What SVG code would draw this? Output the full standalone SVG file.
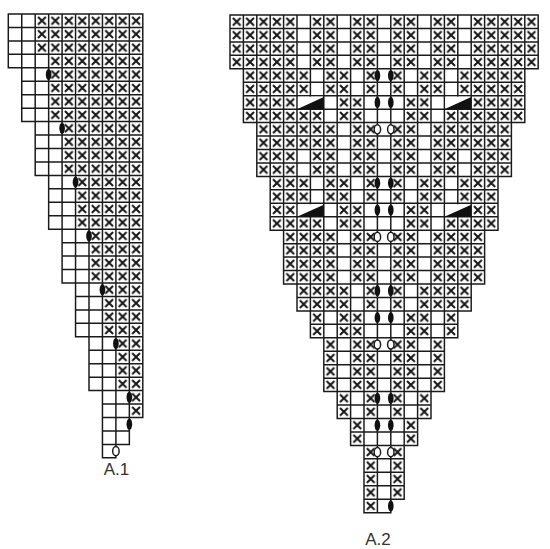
<svg xmlns="http://www.w3.org/2000/svg" width="550" height="549" viewBox="0 0 550 549">
<style>
.xr{fill:url(#xp)}
.gl{fill:none;stroke:#1a1a1a;stroke-width:.11;stroke-linecap:square}
.ov{fill:#111}
.oo{fill:#fff;stroke:#1a1a1a;stroke-width:.11}
.tri{fill:#111}
.cov{fill:#fff}
.lbl{font-family:"Liberation Sans",Arial,sans-serif;font-size:17px;fill:#333;text-anchor:middle}
</style>
<defs>
<pattern id="xp" patternUnits="userSpaceOnUse" width="1" height="1">
<path d="M.21 .21L.79 .79M.79 .21L.21 .79" stroke="#151515" stroke-width=".15" fill="none"/>
</pattern>
</defs>
<rect width="550" height="549" fill="#fff"/>
<g id="chartA1" transform="translate(8.3,14) scale(13.45)">
<g id="a1-knit">
<rect class="xr" x="2" y="0" width="8" height="3"/>
<rect class="xr" x="3" y="3" width="7" height="5"/>
<rect class="xr" x="4" y="8" width="6" height="4"/>
<rect class="xr" x="5" y="12" width="5" height="4"/>
<rect class="xr" x="6" y="16" width="4" height="4"/>
<rect class="xr" x="7" y="20" width="3" height="4"/>
<rect class="xr" x="8" y="24" width="2" height="4"/>
<rect class="xr" x="9" y="28" width="1" height="2"/>
</g>
<path id="a1-grid" class="gl" d="M0 0V4M1 0V8M2 0V12M3 0V16M4 0V20M5 0V24M6 0V28M7 0V33M8 0V33M9 0V32M10 0V30M0 0H10M0 1H10M0 2H10M0 3H10M0 4H10M1 5H10M1 6H10M1 7H10M1 8H10M2 9H10M2 10H10M2 11H10M2 12H10M3 13H10M3 14H10M3 15H10M3 16H10M4 17H10M4 18H10M4 19H10M4 20H10M5 21H10M5 22H10M5 23H10M5 24H10M6 25H10M6 26H10M6 27H10M6 28H10M7 29H10M7 30H10M7 31H9M7 32H9M7 33H8"/>
<g id="a1-symbols">
<ellipse class="ov" cx="3" cy="4.5" rx=".21" ry=".42"/>
<ellipse class="ov" cx="4" cy="8.5" rx=".21" ry=".42"/>
<ellipse class="ov" cx="5" cy="12.5" rx=".21" ry=".42"/>
<ellipse class="ov" cx="6" cy="16.5" rx=".21" ry=".42"/>
<ellipse class="ov" cx="7" cy="20.5" rx=".21" ry=".42"/>
<ellipse class="ov" cx="8" cy="24.5" rx=".21" ry=".42"/>
<ellipse class="ov" cx="9" cy="28.5" rx=".21" ry=".42"/>
<ellipse class="ov" cx="9" cy="30.5" rx=".21" ry=".42"/>
<ellipse class="oo" cx="8" cy="32.5" rx=".24" ry=".34"/>
</g>
</g>
<text id="labelA1" class="lbl" x="116.5" y="475">A.1</text>
<g id="chartA2" transform="translate(230,15) scale(13.4,13.45)">
<g id="a2-knit">
<rect class="xr" x="0" y="0" width="5" height="4"/><rect class="xr" x="6" y="0" width="2" height="4"/><rect class="xr" x="9" y="0" width="2" height="4"/><rect class="xr" x="12" y="0" width="2" height="4"/><rect class="xr" x="15" y="0" width="2" height="4"/><rect class="xr" x="18" y="0" width="5" height="4"/>
<rect class="xr" x="1" y="4" width="5" height="2"/><rect class="xr" x="7" y="4" width="2" height="2"/><rect class="xr" x="10" y="4" width="1" height="2"/><rect class="xr" x="12" y="4" width="1" height="2"/><rect class="xr" x="14" y="4" width="2" height="2"/><rect class="xr" x="17" y="4" width="5" height="2"/>
<rect class="xr" x="1" y="6" width="4" height="2"/><rect class="xr" x="5" y="7" width="2" height="1"/><rect class="xr" x="8" y="6" width="2" height="2"/><rect class="xr" x="13" y="6" width="2" height="2"/><rect class="xr" x="16" y="7" width="2" height="1"/><rect class="xr" x="18" y="6" width="4" height="2"/>
<rect class="xr" x="2" y="8" width="3" height="4"/><rect class="xr" x="5" y="8" width="1" height="2"/><rect class="xr" x="6" y="8" width="2" height="4"/><rect class="xr" x="9" y="8" width="2" height="4"/><rect class="xr" x="12" y="8" width="2" height="4"/><rect class="xr" x="15" y="8" width="2" height="4"/><rect class="xr" x="17" y="8" width="1" height="2"/><rect class="xr" x="18" y="8" width="3" height="4"/>
<rect class="xr" x="3" y="12" width="3" height="2"/><rect class="xr" x="7" y="12" width="2" height="2"/><rect class="xr" x="10" y="12" width="1" height="2"/><rect class="xr" x="12" y="12" width="1" height="2"/><rect class="xr" x="14" y="12" width="2" height="2"/><rect class="xr" x="17" y="12" width="3" height="2"/>
<rect class="xr" x="3" y="14" width="2" height="2"/><rect class="xr" x="5" y="15" width="2" height="1"/><rect class="xr" x="8" y="14" width="2" height="2"/><rect class="xr" x="13" y="14" width="2" height="2"/><rect class="xr" x="16" y="15" width="2" height="1"/><rect class="xr" x="18" y="14" width="2" height="2"/>
<rect class="xr" x="4" y="16" width="4" height="4"/><rect class="xr" x="9" y="16" width="2" height="4"/><rect class="xr" x="12" y="16" width="2" height="4"/><rect class="xr" x="15" y="16" width="4" height="4"/>
<rect class="xr" x="5" y="20" width="4" height="2"/><rect class="xr" x="10" y="20" width="1" height="2"/><rect class="xr" x="12" y="20" width="1" height="2"/><rect class="xr" x="14" y="20" width="4" height="2"/>
<rect class="xr" x="6" y="22" width="1" height="2"/><rect class="xr" x="8" y="22" width="2" height="2"/><rect class="xr" x="13" y="22" width="2" height="2"/><rect class="xr" x="16" y="22" width="1" height="2"/>
<rect class="xr" x="7" y="24" width="1" height="4"/><rect class="xr" x="9" y="24" width="2" height="4"/><rect class="xr" x="12" y="24" width="2" height="4"/><rect class="xr" x="15" y="24" width="1" height="4"/>
<rect class="xr" x="8" y="28" width="1" height="2"/><rect class="xr" x="10" y="28" width="1" height="2"/><rect class="xr" x="12" y="28" width="1" height="2"/><rect class="xr" x="14" y="28" width="1" height="2"/>
<rect class="xr" x="9" y="30" width="1" height="2"/><rect class="xr" x="13" y="30" width="1" height="2"/>
<rect class="xr" x="10" y="32" width="1" height="5"/><rect class="xr" x="12" y="32" width="1" height="4"/>
</g>
<path id="a2-grid" class="gl" d="M0 0V4M1 0V8M2 0V12M3 0V16M4 0V20M5 0V22M6 0V24M7 0V28M8 0V30M9 0V32M10 0V37M11 0V37M12 0V37M13 0V36M14 0V32M15 0V30M16 0V28M17 0V24M18 0V22M19 0V20M20 0V16M21 0V12M22 0V8M23 0V4M0 0H23M0 1H23M0 2H23M0 3H23M0 4H23M1 5H22M1 6H22M1 7H22M1 8H22M2 9H21M2 10H21M2 11H21M2 12H21M3 13H20M3 14H20M3 15H20M3 16H20M4 17H19M4 18H19M4 19H19M4 20H19M5 21H18M5 22H18M6 23H17M6 24H17M7 25H16M7 26H16M7 27H16M7 28H16M8 29H15M8 30H15M9 31H14M9 32H14M10 33H13M10 34H13M10 35H13M10 36H13M10 37H12"/>
<g id="a2-decreases">
<rect class="cov" x="5.07" y="6.07" width="1.86" height=".86"/><polygon class="tri" points="5,7 7,6.1 7,7"/>
<rect class="cov" x="16.07" y="6.07" width="1.86" height=".86"/><polygon class="tri" points="16,7 18,6.1 18,7"/>
<rect class="cov" x="5.07" y="14.07" width="1.86" height=".86"/><polygon class="tri" points="5,15 7,14.1 7,15"/>
<rect class="cov" x="16.07" y="14.07" width="1.86" height=".86"/><polygon class="tri" points="16,15 18,14.1 18,15"/>
</g>
<g id="a2-symbols">
<ellipse class="ov" cx="11" cy="4.5" rx=".21" ry=".42"/><ellipse class="ov" cx="12" cy="4.5" rx=".21" ry=".42"/>
<ellipse class="ov" cx="11" cy="6.5" rx=".21" ry=".42"/><ellipse class="ov" cx="12" cy="6.5" rx=".21" ry=".42"/>
<ellipse class="oo" cx="11" cy="8.5" rx=".24" ry=".34"/><ellipse class="oo" cx="12" cy="8.5" rx=".24" ry=".34"/>
<ellipse class="ov" cx="11" cy="12.5" rx=".21" ry=".42"/><ellipse class="ov" cx="12" cy="12.5" rx=".21" ry=".42"/>
<ellipse class="ov" cx="11" cy="14.5" rx=".21" ry=".42"/><ellipse class="ov" cx="12" cy="14.5" rx=".21" ry=".42"/>
<ellipse class="oo" cx="11" cy="16.5" rx=".24" ry=".34"/><ellipse class="oo" cx="12" cy="16.5" rx=".24" ry=".34"/>
<ellipse class="ov" cx="11" cy="20.5" rx=".21" ry=".42"/><ellipse class="ov" cx="12" cy="20.5" rx=".21" ry=".42"/>
<ellipse class="ov" cx="11" cy="22.5" rx=".21" ry=".42"/><ellipse class="ov" cx="12" cy="22.5" rx=".21" ry=".42"/>
<ellipse class="oo" cx="11" cy="24.5" rx=".24" ry=".34"/><ellipse class="oo" cx="12" cy="24.5" rx=".24" ry=".34"/>
<ellipse class="ov" cx="11" cy="28.5" rx=".21" ry=".42"/><ellipse class="ov" cx="12" cy="28.5" rx=".21" ry=".42"/>
<ellipse class="ov" cx="11" cy="30.5" rx=".21" ry=".42"/><ellipse class="ov" cx="12" cy="30.5" rx=".21" ry=".42"/>
<ellipse class="oo" cx="11" cy="32.5" rx=".24" ry=".34"/><ellipse class="oo" cx="12" cy="32.5" rx=".24" ry=".34"/>
<ellipse class="ov" cx="12" cy="36.5" rx=".21" ry=".42"/>
</g>
</g>
<text id="labelA2" class="lbl" x="378" y="545">A.2</text>
</svg>
